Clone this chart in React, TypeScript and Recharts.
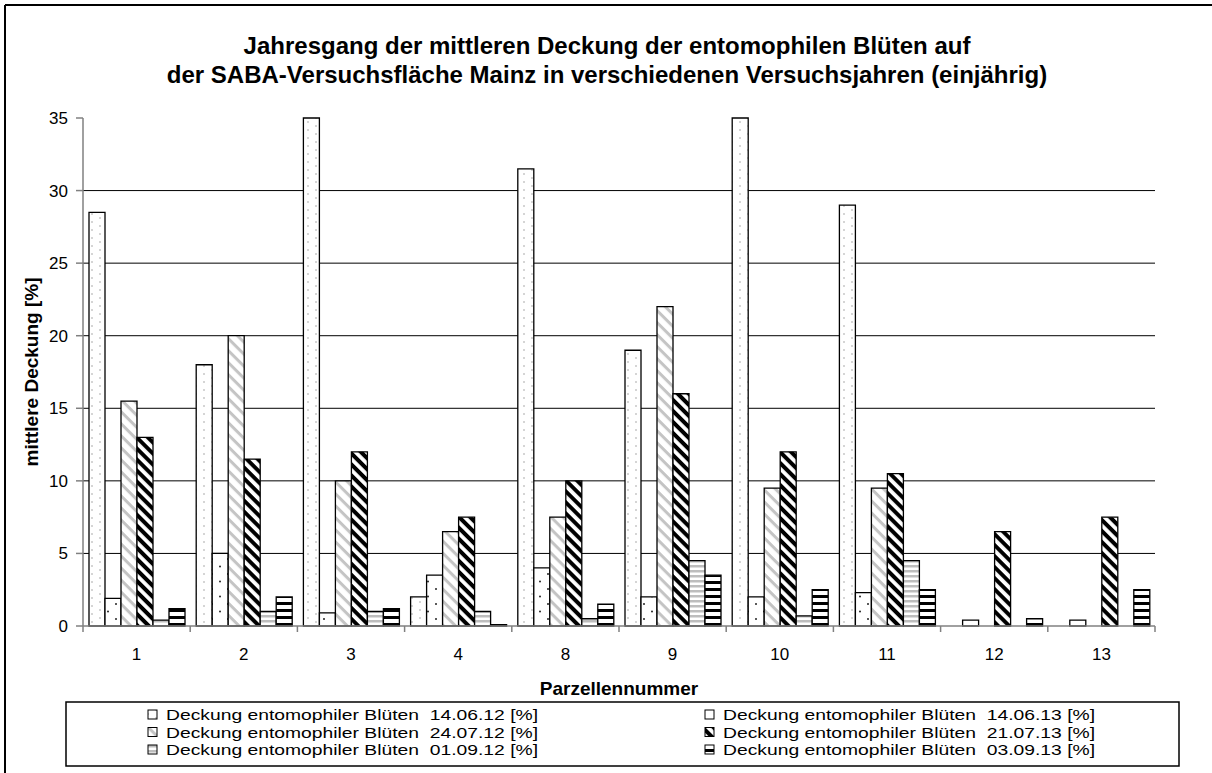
import React from 'react';
import { BarChart, Bar, XAxis, YAxis, CartesianGrid } from 'recharts';

// ---------- data ----------
const categories = ['1', '2', '3', '4', '8', '9', '10', '11', '12', '13'];
const cover140612 = [28.5, 18, 35, 2, 31.5, 19, 35, 29, 0, 0];
const cover140613 = [1.9, 5, 0.9, 3.5, 4, 2, 2, 2.3, 0.4, 0.4];
const cover240712 = [15.5, 20, 10, 6.5, 7.5, 22, 9.5, 9.5, 0, 0];
const cover210713 = [13, 11.5, 12, 7.5, 10, 16, 12, 10.5, 6.5, 7.5];
const cover010912 = [0.4, 1, 1, 1, 0.5, 4.5, 0.7, 4.5, 0, 0];
const cover030913 = [1.2, 2, 1.2, 0.1, 1.5, 3.5, 2.5, 2.5, 0.5, 2.5];
const seriesNames = [
  'Deckung entomophiler Blüten  14.06.12 [%]',
  'Deckung entomophiler Blüten  14.06.13 [%]',
  'Deckung entomophiler Blüten  24.07.12 [%]',
  'Deckung entomophiler Blüten  21.07.13 [%]',
  'Deckung entomophiler Blüten  01.09.12 [%]',
  'Deckung entomophiler Blüten  03.09.13 [%]',
];
const yTicks = [0, 5, 10, 15, 20, 25, 30, 35];
const gridValues = [5, 10, 15, 20, 25, 30];
const titleLines = [
  'Jahresgang der mittleren Deckung der entomophilen Blüten auf',
  'der SABA-Versuchsfläche Mainz in verschiedenen Versuchsjahren (einjährig)',
];
const yLabel = 'mittlere Deckung [%]';
const xLabel = 'Parzellennummer';

const seriesValues = [cover140612, cover140613, cover240712, cover210713, cover010912, cover030913];
const seriesKeys = ['s1', 's2', 's3', 's4', 's5', 's6'];
const rows = categories.map((c, i) => {
  const r: any = { cat: c };
  seriesKeys.forEach((k, j) => (r[k] = seriesValues[j][i]));
  return r;
});

// ---------- layout ----------
const W = 1212;
const H = 773;
const PLOT_LEFT = 83;
const PLOT_RIGHT = 1155;
const PLOT_TOP = 118;
const PLOT_BOTTOM = 626;
const XAXIS_H = 40;
const FONT = '"Liberation Sans", Arial, Helvetica, sans-serif';
const GRAY = '#808080';
const BAND = (PLOT_RIGHT - PLOT_LEFT) / categories.length;

function Patterns({ prefix }: { prefix: string }) {
  return (
    <defs>
      <pattern id={prefix + '1'} width={16} height={8} patternUnits="userSpaceOnUse">
        <rect width={16} height={8} fill="#fff" />
        <circle cx={4} cy={2} r={0.8} fill="#a0a0a0" />
        <circle cx={12} cy={6} r={0.8} fill="#a0a0a0" />
      </pattern>
      <pattern id={prefix + '2'} width={16} height={15} patternUnits="userSpaceOnUse">
        <rect width={16} height={15} fill="#fff" />
        <circle cx={4} cy={4} r={1} fill="#222" />
        <circle cx={12} cy={11.5} r={1} fill="#222" />
      </pattern>
      <pattern id={prefix + '3'} width={8.5} height={8.5} patternUnits="userSpaceOnUse" patternTransform="rotate(45)">
        <rect width={8.5} height={8.5} fill="#fff" />
        <rect width={8.5} height={3} fill="#c4c4c4" />
      </pattern>
      <pattern id={prefix + '4'} width={7.8} height={7.8} patternUnits="userSpaceOnUse" patternTransform="rotate(45)">
        <rect width={7.8} height={7.8} fill="#fff" />
        <rect width={7.8} height={4} fill="#000" />
      </pattern>
      <pattern id={prefix + '5'} width={8} height={5} patternUnits="userSpaceOnUse">
        <rect width={8} height={5} fill="#fff" />
        <rect width={8} height={2.5} fill="#bdbdbd" />
      </pattern>
      <pattern id={prefix + '6'} width={8} height={7} patternUnits="userSpaceOnUse">
        <rect width={8} height={7} fill="#fff" />
        <rect width={8} height={3} fill="#000" />
      </pattern>
    </defs>
  );
}

function CatTick(props: any) {
  const { x, payload, index } = props;
  const isLast = index === categories.length - 1;
  return (
    <g>
      <line x1={x - BAND / 2} x2={x - BAND / 2} y1={PLOT_BOTTOM} y2={PLOT_BOTTOM + 6} stroke={GRAY} strokeWidth={1.5} />
      {isLast && (
        <line x1={x + BAND / 2} x2={x + BAND / 2} y1={PLOT_BOTTOM} y2={PLOT_BOTTOM + 6} stroke={GRAY} strokeWidth={1.5} />
      )}
      <text x={x} y={PLOT_BOTTOM + 34} textAnchor="middle" fontSize={17} fontFamily={FONT} fill="#000">
        {payload.value}
      </text>
    </g>
  );
}

function Overlay() {
  const colSq = [148, 705];
  const colTx = [166, 723];
  const rowBase = [720, 737.5, 755];
  return (
    <svg width={W} height={H} style={{ position: 'absolute', left: 0, top: 0 }}>
      <Patterns prefix="lp" />
      <line x1={5} y1={5} x2={W} y2={5} stroke="#000" strokeWidth={2} />
      <line x1={5} y1={5} x2={5} y2={H} stroke="#000" strokeWidth={2} />
      {titleLines.map((t, i) => (
        <text key={i} x={607} y={54 + i * 29} textAnchor="middle" fontSize={24} fontWeight="bold" fontFamily={FONT} fill="#000">
          {t}
        </text>
      ))}
      <text
        x={0}
        y={0}
        transform={`translate(38, ${(PLOT_TOP + PLOT_BOTTOM) / 2}) rotate(-90)`}
        textAnchor="middle"
        fontSize={19}
        fontWeight="bold"
        fontFamily={FONT}
        fill="#000"
      >
        {yLabel}
      </text>
      <text x={(PLOT_LEFT + PLOT_RIGHT) / 2} y={695} textAnchor="middle" fontSize={19} fontWeight="bold" fontFamily={FONT} fill="#000">
        {xLabel}
      </text>
      <rect x={66} y={702} width={1113} height={64} fill="#fff" stroke="#000" strokeWidth={1.5} />
      {seriesNames.map((n, i) => {
        const col = i % 2;
        const row = Math.floor(i / 2);
        return (
          <g key={i}>
            <rect x={colSq[col]} y={rowBase[row] - 10} width={9} height={9} fill={`url(#lp${i + 1})`} stroke="#000" strokeWidth={1} />
            <text
              x={colTx[col]}
              y={rowBase[row]}
              fontSize={15}
              fontFamily={FONT}
              fill="#000"
              textLength={372}
              lengthAdjust="spacingAndGlyphs"
              style={{ whiteSpace: 'pre' }}
            >
              {n}
            </text>
          </g>
        );
      })}
    </svg>
  );
}

export default function App() {
  return (
    <div style={{ position: 'absolute', left: 0, top: 0, width: W, height: H, background: '#fff', fontFamily: FONT }}>
      <Overlay />
      <div style={{ position: 'absolute', left: 0, top: 0 }}>
        <BarChart
          width={W}
          height={H}
          data={rows}
          margin={{ top: PLOT_TOP, right: W - PLOT_RIGHT, bottom: H - PLOT_BOTTOM - XAXIS_H, left: 0 }}
          barCategoryGap={6}
          barGap={0}
        >
          <Patterns prefix="bp" />
          <CartesianGrid vertical={false} horizontalValues={gridValues} stroke="#000" strokeWidth={1} />
          <XAxis
            dataKey="cat"
            height={XAXIS_H}
            interval={0}
            tickLine={false}
            axisLine={{ stroke: GRAY, strokeWidth: 1.5 }}
            tick={<CatTick />}
          />
          <YAxis
            width={PLOT_LEFT}
            domain={[0, 35]}
            ticks={yTicks}
            interval={0}
            tickSize={7}
            tickMargin={8}
            axisLine={{ stroke: GRAY, strokeWidth: 1.5 }}
            tickLine={{ stroke: GRAY, strokeWidth: 1.5 }}
            tick={{ fill: '#000', fontSize: 17, fontFamily: FONT }}
          />
          {seriesKeys.map((k, i) => (
            <Bar
              key={k}
              dataKey={k}
              name={seriesNames[i]}
              fill={`url(#bp${i + 1})`}
              stroke="#000"
              strokeWidth={1.3}
              isAnimationActive={false}
            />
          ))}
        </BarChart>
      </div>
    </div>
  );
}
